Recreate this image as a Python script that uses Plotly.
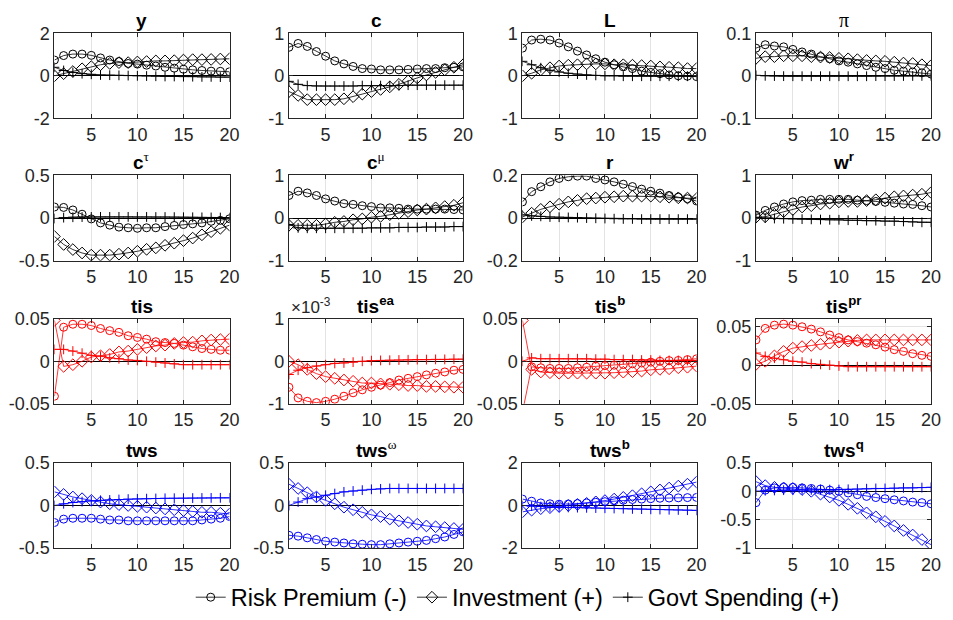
import plotly.graph_objects as go

x = list(range(1, 21))

# ---------------- data (Risk Premium, Investment, Govt Spending) ----------------
y_rp = [0.74, 0.95, 1.02, 1.02, 0.96, 0.84, 0.74, 0.67, 0.58, 0.55, 0.50, 0.46, 0.40, 0.36, 0.31, 0.28, 0.25, 0.22, 0.21, 0.19]
y_inv = [0.0, 0.10, 0.20, 0.33, 0.43, 0.52, 0.58, 0.62, 0.62, 0.65, 0.67, 0.70, 0.70, 0.71, 0.74, 0.76, 0.76, 0.77, 0.79, 0.80]
y_gs = [0.40, 0.25, 0.16, 0.10, 0.07, 0.04, 0.03, 0.02, 0.01, 0.0, -0.01, -0.02, -0.03, -0.03, -0.04, -0.04, -0.05, -0.05, -0.06, -0.06]

c_rp = [0.67, 0.76, 0.69, 0.57, 0.46, 0.35, 0.28, 0.22, 0.17, 0.16, 0.14, 0.14, 0.14, 0.15, 0.16, 0.17, 0.17, 0.19, 0.20, 0.21]
c_inv = [-0.37, -0.46, -0.56, -0.56, -0.56, -0.56, -0.54, -0.49, -0.43, -0.37, -0.32, -0.26, -0.20, -0.12, -0.05, 0.02, 0.08, 0.14, 0.20, 0.26]
c_gs = [-0.13, -0.20, -0.23, -0.24, -0.24, -0.24, -0.24, -0.24, -0.23, -0.23, -0.23, -0.23, -0.23, -0.22, -0.22, -0.22, -0.22, -0.22, -0.22, -0.22]

L_rp = [0.65, 0.84, 0.86, 0.84, 0.77, 0.68, 0.58, 0.49, 0.40, 0.32, 0.26, 0.21, 0.17, 0.11, 0.08, 0.05, 0.02, 0.0, -0.01, -0.02]
L_inv = [0.0, 0.06, 0.14, 0.19, 0.23, 0.25, 0.26, 0.28, 0.28, 0.28, 0.26, 0.26, 0.25, 0.24, 0.23, 0.21, 0.20, 0.19, 0.17, 0.17]
L_gs = [0.34, 0.26, 0.19, 0.13, 0.09, 0.06, 0.04, 0.02, 0.01, 0.0, 0.0, -0.01, -0.01, -0.01, -0.01, -0.01, -0.01, -0.01, -0.01, -0.01]

pi_rp = [0.065, 0.073, 0.070, 0.068, 0.062, 0.056, 0.051, 0.045, 0.040, 0.035, 0.032, 0.028, 0.024, 0.020, 0.017, 0.013, 0.011, 0.009, 0.007, 0.004]
pi_inv = [0.041, 0.045, 0.045, 0.047, 0.047, 0.047, 0.045, 0.044, 0.043, 0.041, 0.040, 0.038, 0.036, 0.035, 0.034, 0.032, 0.030, 0.029, 0.026, 0.024]
pi_gs = [0.001, 0.0, -0.0005, -0.0008, -0.001, -0.001, -0.001, -0.001, -0.001, -0.001, -0.001, -0.001, -0.001, -0.0008, -0.0006, -0.0005, -0.0004, -0.0003, -0.0002, -0.0001]

ctau_rp = [0.13, 0.125, 0.095, 0.045, -0.01, -0.057, -0.083, -0.106, -0.114, -0.12, -0.114, -0.114, -0.10, -0.087, -0.076, -0.068, -0.057, -0.038, -0.027, -0.008]
ctau_inv = [-0.216, -0.31, -0.37, -0.41, -0.435, -0.435, -0.435, -0.424, -0.41, -0.39, -0.367, -0.35, -0.32, -0.295, -0.265, -0.235, -0.197, -0.16, -0.12, -0.083]
ctau_gs = [-0.005, 0.005, 0.01, 0.012, 0.013, 0.014, 0.014, 0.014, 0.014, 0.013, 0.013, 0.012, 0.012, 0.011, 0.01, 0.009, 0.008, 0.007, 0.006, 0.005]

cmu_rp = [0.53, 0.63, 0.59, 0.53, 0.45, 0.40, 0.34, 0.32, 0.29, 0.27, 0.24, 0.24, 0.23, 0.21, 0.21, 0.21, 0.21, 0.21, 0.20, 0.19]
cmu_inv = [-0.17, -0.17, -0.17, -0.17, -0.14, -0.10, -0.08, -0.04, -0.02, 0.02, 0.04, 0.08, 0.11, 0.15, 0.19, 0.21, 0.24, 0.27, 0.30, 0.36]
cmu_gs = [-0.15, -0.23, -0.24, -0.24, -0.24, -0.24, -0.24, -0.24, -0.24, -0.23, -0.23, -0.23, -0.22, -0.22, -0.22, -0.21, -0.21, -0.21, -0.20, -0.20]

r_rp = [0.076, 0.124, 0.147, 0.170, 0.186, 0.194, 0.197, 0.197, 0.186, 0.179, 0.170, 0.159, 0.148, 0.136, 0.126, 0.117, 0.106, 0.098, 0.091, 0.080]
r_inv = [0.005, 0.023, 0.041, 0.053, 0.065, 0.076, 0.083, 0.091, 0.094, 0.098, 0.100, 0.103, 0.103, 0.103, 0.103, 0.100, 0.098, 0.095, 0.094, 0.091]
r_gs = [0.015, 0.010, 0.008, 0.005, 0.004, 0.003, 0.002, 0.0, -0.001, -0.002, -0.003, -0.004, -0.004, -0.005, -0.005, -0.005, -0.005, -0.005, -0.005, -0.005]

wr_rp = [0.07, 0.18, 0.26, 0.33, 0.38, 0.41, 0.42, 0.44, 0.44, 0.44, 0.44, 0.42, 0.41, 0.39, 0.37, 0.35, 0.33, 0.32, 0.29, 0.26]
wr_inv = [0.02, 0.03, 0.09, 0.15, 0.20, 0.26, 0.29, 0.33, 0.35, 0.38, 0.39, 0.39, 0.41, 0.43, 0.47, 0.50, 0.52, 0.54, 0.56, 0.60]
wr_gs = [0.01, 0.0, -0.01, -0.015, -0.02, -0.025, -0.03, -0.035, -0.04, -0.04, -0.05, -0.05, -0.06, -0.06, -0.07, -0.07, -0.08, -0.09, -0.10, -0.10]

tis_rp = [-0.041, 0.040, 0.0435, 0.0435, 0.042, 0.0385, 0.036, 0.034, 0.030, 0.028, 0.026, 0.023, 0.022, 0.021, 0.019, 0.017, 0.015, 0.014, 0.013, 0.013]
tis_inv = [0.048, -0.006, -0.004, 0.0, 0.005, 0.0065, 0.008, 0.011, 0.012, 0.014, 0.016, 0.018, 0.019, 0.021, 0.022, 0.0225, 0.024, 0.025, 0.0255, 0.026]
tis_gs = [0.014, 0.014, 0.012, 0.0095, 0.007, 0.006, 0.004, 0.003, 0.0015, 0.001, 0.0, -0.001, -0.002, -0.003, -0.004, -0.004, -0.004, -0.004, -0.004, -0.004]

tisea_rp = [-0.00061, -0.00086, -0.00094, -0.00097, -0.00094, -0.00089, -0.00082, -0.00074, -0.00067, -0.00061, -0.00056, -0.00050, -0.00044, -0.00040, -0.00036, -0.00032, -0.00028, -0.00025, -0.00021, -0.00019]
tisea_inv = [0.0, -0.00008, -0.00019, -0.00029, -0.00036, -0.00040, -0.00044, -0.00047, -0.00051, -0.00051, -0.00053, -0.00054, -0.00055, -0.00057, -0.00057, -0.00059, -0.00059, -0.00060, -0.00061, -0.00061]
tisea_gs = [-0.00031, -0.00021, -0.00015, -0.00011, -0.00008, -0.00005, -0.00004, -0.00002, 0.0, 0.000015, 0.00002, 0.000025, 0.00003, 0.000035, 0.00004, 0.00004, 0.000045, 0.000045, 0.00005, 0.00005]

tisb_rp = [-0.06, -0.0065, -0.0076, -0.0084, -0.0084, -0.0084, -0.0076, -0.007, -0.0057, -0.005, -0.0046, -0.0038, -0.003, -0.002, -0.001, 0.0, 0.0008, 0.001, 0.002, 0.003]
tisb_inv = [0.048, -0.0095, -0.0126, -0.0134, -0.014, -0.014, -0.014, -0.014, -0.014, -0.014, -0.0134, -0.0128, -0.0122, -0.0115, -0.010, -0.0095, -0.0088, -0.0076, -0.007, -0.0057]
tisb_gs = [0.0, 0.004, 0.003, 0.003, 0.003, 0.003, 0.003, 0.003, 0.0025, 0.0025, 0.002, 0.002, 0.002, 0.0015, 0.0015, 0.001, 0.001, 0.001, 0.001, 0.001]

tispr_rp = [0.0326, 0.0475, 0.0517, 0.053, 0.0517, 0.0496, 0.0466, 0.043, 0.039, 0.0356, 0.0326, 0.0305, 0.0284, 0.0263, 0.0233, 0.020, 0.0178, 0.0148, 0.0127, 0.0114]
tispr_inv = [0.001, 0.005, 0.012, 0.0178, 0.022, 0.024, 0.0254, 0.027, 0.0284, 0.0297, 0.031, 0.032, 0.0326, 0.0326, 0.0326, 0.0326, 0.0326, 0.0326, 0.0326, 0.0326]
tispr_gs = [0.0157, 0.0114, 0.009, 0.007, 0.005, 0.004, 0.002, 0.001, 0.0, -0.001, -0.002, -0.002, -0.002, -0.002, -0.002, -0.002, -0.002, -0.002, -0.002, -0.002]

tws_rp = [-0.20, -0.16, -0.15, -0.15, -0.15, -0.16, -0.17, -0.17, -0.18, -0.18, -0.18, -0.18, -0.18, -0.18, -0.18, -0.18, -0.17, -0.16, -0.15, -0.13]
tws_inv = [0.16, 0.13, 0.10, 0.08, 0.06, 0.04, 0.02, 0.01, 0.0, -0.01, -0.02, -0.03, -0.04, -0.05, -0.06, -0.07, -0.08, -0.08, -0.09, -0.10]
tws_gs = [0.0, 0.02, 0.035, 0.045, 0.055, 0.06, 0.065, 0.07, 0.075, 0.078, 0.08, 0.082, 0.084, 0.085, 0.086, 0.087, 0.088, 0.089, 0.09, 0.09]

twsw_rp = [-0.35, -0.36, -0.38, -0.40, -0.42, -0.43, -0.44, -0.45, -0.455, -0.46, -0.46, -0.45, -0.44, -0.43, -0.42, -0.41, -0.39, -0.37, -0.34, -0.31]
twsw_inv = [0.25, 0.20, 0.15, 0.10, 0.06, 0.02, -0.02, -0.05, -0.08, -0.11, -0.13, -0.16, -0.18, -0.20, -0.22, -0.24, -0.25, -0.26, -0.27, -0.28]
twsw_gs = [0.0, 0.04, 0.08, 0.10, 0.12, 0.14, 0.16, 0.17, 0.18, 0.19, 0.195, 0.2, 0.2, 0.2, 0.2, 0.2, 0.2, 0.2, 0.2, 0.2]

twsb_rp = [0.30, 0.20, 0.12, 0.08, 0.06, 0.07, 0.09, 0.12, 0.15, 0.18, 0.22, 0.25, 0.28, 0.30, 0.32, 0.34, 0.35, 0.36, 0.37, 0.38]
twsb_inv = [-0.30, -0.22, -0.15, -0.10, -0.05, 0.0, 0.05, 0.10, 0.17, 0.23, 0.30, 0.38, 0.46, 0.55, 0.64, 0.73, 0.82, 0.91, 1.00, 1.10]
twsb_gs = [0.0, -0.03, -0.05, -0.07, -0.08, -0.09, -0.10, -0.11, -0.12, -0.13, -0.14, -0.15, -0.16, -0.17, -0.18, -0.19, -0.20, -0.21, -0.22, -0.23]

twsq_rp = [-0.20, 0.02, 0.06, 0.07, 0.07, 0.06, 0.05, 0.04, 0.02, 0.0, -0.03, -0.06, -0.09, -0.11, -0.13, -0.15, -0.17, -0.19, -0.20, -0.22]
twsq_inv = [0.17, 0.10, 0.07, 0.06, 0.05, 0.03, 0.0, -0.05, -0.10, -0.16, -0.23, -0.30, -0.38, -0.45, -0.53, -0.61, -0.69, -0.77, -0.85, -0.94]
twsq_gs = [0.0, 0.01, 0.015, 0.02, 0.02, 0.025, 0.025, 0.03, 0.03, 0.03, 0.035, 0.04, 0.045, 0.05, 0.05, 0.055, 0.06, 0.06, 0.065, 0.07]

# ---------------- panel titles, y ranges and tick labels ----------------
GK = '<span style="font-family:Liberation Serif, serif">{}</span>'
titles = ["<b>y</b>", "<b>c</b>", "<b>L</b>", "π",
          "<b>c</b><sup>" + GK.format("τ") + "</sup>", "<b>c</b><sup>" + GK.format("μ") + "</sup>",
          "<b>r</b>", "<b>w<sup>r</sup></b>",
          "<b>tis</b>", "<b>tis<sup>ea</sup></b>", "<b>tis<sup>b</sup></b>", "<b>tis<sup>pr</sup></b>",
          "<b>tws</b>", "<b>tws</b><sup>" + GK.format("ω") + "</sup>", "<b>tws<sup>b</sup></b>", "<b>tws<sup>q</sup></b>"]
y_ranges = [[-2, 2], [-1, 1], [-1, 1], [-0.1, 0.1],
            [-0.5, 0.5], [-1, 1], [-0.2, 0.2], [-1, 1],
            [-0.05, 0.05], [-0.001, 0.001], [-0.05, 0.05], [-0.05, 0.06],
            [-0.5, 0.5], [-0.5, 0.5], [-2, 2], [-1, 0.5]]
y_tickvals = [[-2, 0, 2], [-1, 0, 1], [-1, 0, 1], [-0.1, 0, 0.1],
              [-0.5, 0, 0.5], [-1, 0, 1], [-0.2, 0, 0.2], [-1, 0, 1],
              [-0.05, 0, 0.05], [-0.001, 0, 0.001], [-0.05, 0, 0.05], [-0.05, 0, 0.05],
              [-0.5, 0, 0.5], [-0.5, 0, 0.5], [-2, 0, 2], [-1, -0.5, 0, 0.5]]
y_ticktext = [["-2", "0", "2"], ["-1", "0", "1"], ["-1", "0", "1"], ["-0.1", "0", "0.1"],
              ["-0.5", "0", "0.5"], ["-1", "0", "1"], ["-0.2", "0", "0.2"], ["-1", "0", "1"],
              ["-0.05", "0", "0.05"], ["-1", "0", "1"], ["-0.05", "0", "0.05"], ["-0.05", "0", "0.05"],
              ["-0.5", "0", "0.5"], ["-0.5", "0", "0.5"], ["-2", "0", "2"], ["-1", "-0.5", "0", "0.5"]]
x_tickvals = [5, 10, 15, 20]

panels = [(y_rp, y_inv, y_gs), (c_rp, c_inv, c_gs), (L_rp, L_inv, L_gs), (pi_rp, pi_inv, pi_gs),
          (ctau_rp, ctau_inv, ctau_gs), (cmu_rp, cmu_inv, cmu_gs), (r_rp, r_inv, r_gs), (wr_rp, wr_inv, wr_gs),
          (tis_rp, tis_inv, tis_gs), (tisea_rp, tisea_inv, tisea_gs), (tisb_rp, tisb_inv, tisb_gs), (tispr_rp, tispr_inv, tispr_gs),
          (tws_rp, tws_inv, tws_gs), (twsw_rp, twsw_inv, twsw_gs), (twsb_rp, twsb_inv, twsb_gs), (twsq_rp, twsq_inv, twsq_gs)]
series_names = ["Risk Premium (-)", "Investment (+)", "Govt Spending (+)"]
symbols = ["circle-open", "diamond-open", "cross-thin-open"]
sizes = [8, 9, 7]
row_colors = ["black", "black", "red", "blue"]

# ---------------- layout geometry (pixels) ----------------
W, H = 953, 620
col_px = [(55, 232), (292, 468), (528, 704), (764, 941)]
row_px = [(24, 112), (171, 259), (319, 407), (468, 556)]
AX = "#262626"
FONT = "Liberation Sans, Arial, sans-serif"

fig = go.Figure()
layout = {}
annotations = []
for i in range(16):
    r, cidx = divmod(i, 4)
    n = i + 1
    xa = "x" if n == 1 else f"x{n}"
    ya = "y" if n == 1 else f"y{n}"
    color = row_colors[r]
    for s in range(3):
        fig.add_trace(go.Scatter(
            x=x, y=panels[i][s], xaxis=xa, yaxis=ya, mode="lines+markers",
            name=series_names[s], showlegend=False,
            line=dict(color=color, width=0.8),
            marker=dict(symbol=symbols[s], size=sizes[s], color=color, line=dict(width=1, color=color)),
        ))
    x0, x1 = col_px[cidx]
    t, b = row_px[r]
    common = dict(showline=True, mirror="ticks", linecolor=AX, linewidth=1,
                  ticks="inside", ticklen=4, tickcolor=AX, tickwidth=1,
                  tickfont=dict(family=FONT, size=18, color=AX),
                  showgrid=True, gridcolor="#e3e3e3", gridwidth=1)
    layout["xaxis" if n == 1 else f"xaxis{n}"] = dict(
        domain=[x0 / W, x1 / W], anchor=ya, range=[1, 20], tickmode="array",
        tickvals=x_tickvals, ticktext=[str(v) for v in x_tickvals], zeroline=False, **common)
    layout["yaxis" if n == 1 else f"yaxis{n}"] = dict(
        domain=[1 - b / H, 1 - t / H], anchor=xa, range=y_ranges[i], tickmode="array",
        tickvals=y_tickvals[i], ticktext=y_ticktext[i],
        zeroline=True, zerolinecolor="black", zerolinewidth=1, **common)
    is_pi = titles[i] == "π"
    fam = "Liberation Serif, serif" if is_pi else FONT
    annotations.append(dict(
        text=titles[i], x=(x0 + x1) / 2 / W, y=1 - t / H, xref="paper", yref="paper",
        xanchor="center", yanchor="bottom", showarrow=False, yshift=0,
        font=dict(family=fam, size=20 if is_pi else 19, color="black")))

annotations.append(dict(text="×10<sup>-3</sup>", x=col_px[1][0] / W, y=1 - row_px[2][0] / H,
                        xref="paper", yref="paper", xanchor="left", yanchor="bottom",
                        showarrow=False, font=dict(family=FONT, size=17, color=AX)))

# legend entries
for s in range(3):
    fig.add_trace(go.Scatter(
        x=[None], y=[None], mode="lines+markers", name=series_names[s], showlegend=True,
        line=dict(color="black", width=0.8),
        marker=dict(symbol=symbols[s], size=sizes[s], color="black", line=dict(width=1, color="black")),
    ))

fig.update_layout(
    width=W, height=H, margin=dict(l=0, r=0, t=0, b=0),
    paper_bgcolor="white", plot_bgcolor="white",
    font=dict(family=FONT, size=18, color=AX),
    annotations=annotations,
    legend=dict(orientation="h", x=0.549, xanchor="center", y=(H - 607) / H, yanchor="middle",
                font=dict(family=FONT, size=23.5, color="black"), bgcolor="rgba(0,0,0,0)",
                itemwidth=30, tracegroupgap=0),
    **layout,
)

fig.write_html("out.html")
